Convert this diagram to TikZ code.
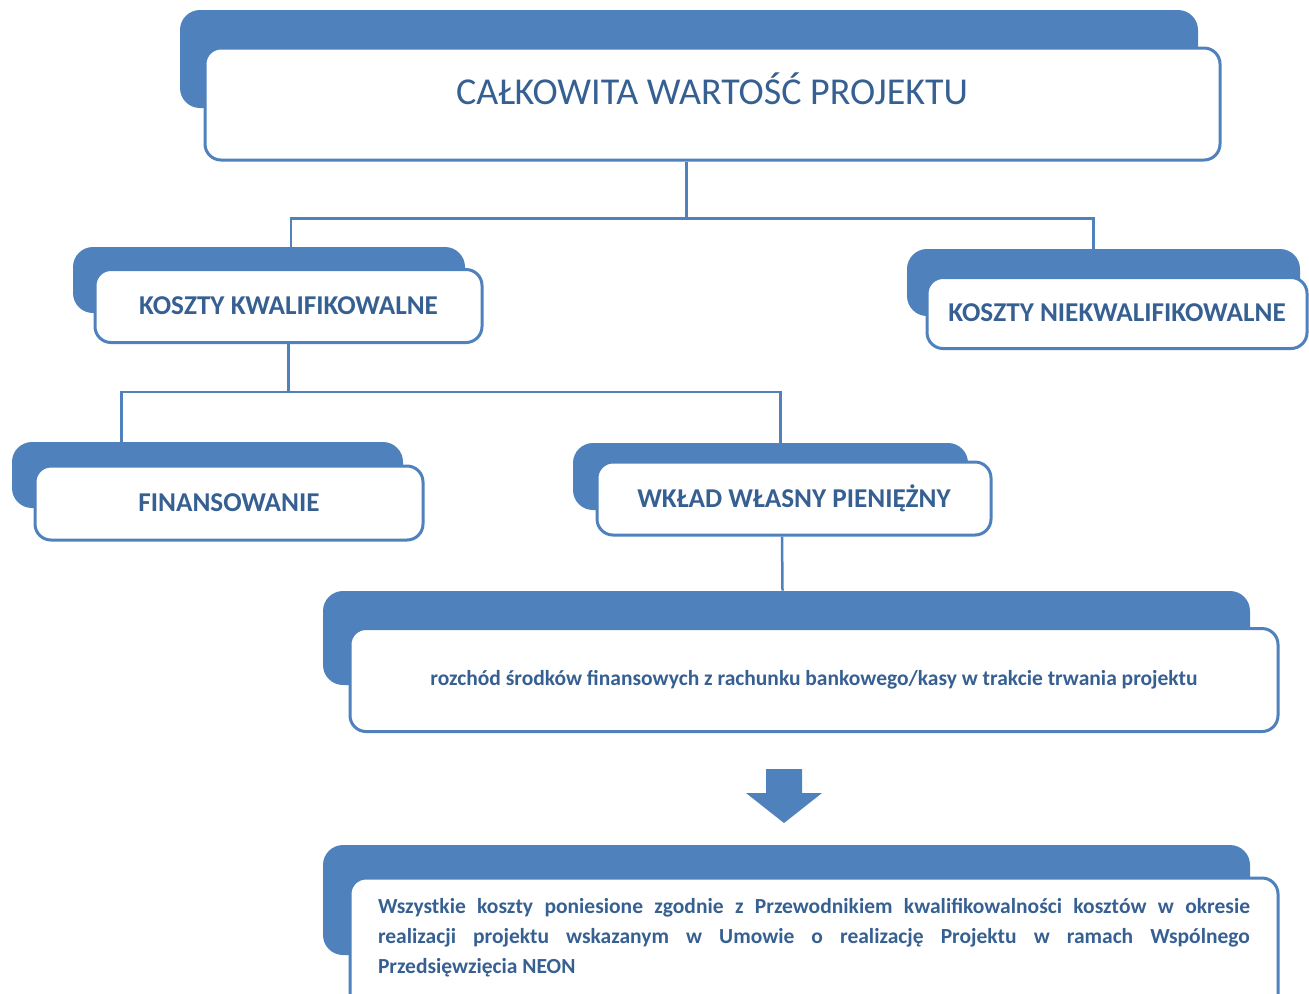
\documentclass[tikz,border=0pt]{standalone}
\usepackage{fontspec}
\setmainfont{Carlito}
\usepackage{tikz}
\usepackage{xcolor}
\definecolor{boxblue}{RGB}{79,129,189}
\definecolor{textblue}{RGB}{55,96,146}
\tikzset{
    tab-box/.style = {fill=boxblue, rectangle, rounded corners=10pt, inner sep=0pt},
    card-box/.style = {draw=boxblue, fill=white, line width=1.5pt, rectangle, rounded corners=8pt, inner sep=0pt, text=textblue, font=\bfseries\fontsize{13.6}{16}\selectfont},
    card-text/.style = {text=textblue, inner sep=0pt},
    link/.style = {draw=boxblue, line width=1.25pt},
}

\begin{document}
\begin{tikzpicture}[x=0.5pt, y=-0.5pt]
\useasboundingbox (0,0) rectangle (1309,993);
\clip (0,0) rectangle (1309,993);

\node [tab-box, minimum width=509pt, minimum height=49pt] (top-tab) at (689,59) {};
\node [card-box, minimum width=507.5pt, minimum height=56pt] (top-card) at (712.5,104) {};
\node [card-text, font=\fontsize{19}{23}\selectfont] (top-text) at (712,89) {CAŁKOWITA WARTOŚĆ PROJEKTU};

\node [tab-box, minimum width=196pt, minimum height=33pt] (kk-tab) at (269,280) {};
\node [card-box, minimum width=193.5pt, minimum height=36.5pt] (kk-card) at (288.5,306) {KOSZTY KWALIFIKOWALNE};

\node [tab-box, minimum width=196.5pt, minimum height=33.5pt] (nk-tab) at (1103.5,282.5) {};
\node [card-box, minimum width=190pt, minimum height=35.5pt] (nk-card) at (1117,313) {KOSZTY NIEKWALIFIKOWALNE};

\node [tab-box, minimum width=195.5pt, minimum height=33pt] (fin-tab) at (207.5,475) {};
\node [card-box, minimum width=194pt, minimum height=37pt] (fin-card) at (229,503) {FINANSOWANIE};

\node [tab-box, minimum width=197.5pt, minimum height=33.5pt] (wk-tab) at (770.5,476.5) {};
\node [card-box, minimum width=197pt, minimum height=36.5pt] (wk-card) at (794,498.5) {WKŁAD WŁASNY PIENIĘŻNY};

\node [tab-box, minimum width=463.5pt, minimum height=47pt] (rz-tab) at (786.5,638) {};
\node [card-box, minimum width=464pt, minimum height=51.5pt, font=\bfseries\fontsize{10.75}{15}\selectfont] (rz-card) at (814,680) {rozchód środków finansowych z rachunku bankowego/kasy w trakcie trwania projektu};

\node [tab-box, minimum width=463.5pt, minimum height=55pt] (all-tab) at (786.5,900) {};
\node [card-box, minimum width=464pt, minimum height=66pt] (all-card) at (814,944) {};
\node [card-text, text width=436pt, align=justify, font=\bfseries\fontsize{10.75}{15}\selectfont] (all-text) at (814,938) {Wszystkie koszty poniesione zgodnie z Przewodnikiem kwalifikowalności kosztów w okresie\linebreak realizacji projektu wskazanym w Umowie o realizację Projektu w ramach Wspólnego\linebreak Przedsięwzięcia NEON};

\draw [link] ([xshift=-13pt]top-card.south) -- ++(0,57) coordinate (split-top);
\draw [link] ([xshift=11pt]kk-tab.north) |- (split-top) -| ([xshift=-5pt]nk-tab.north);
\draw [link] (kk-card.south) -- ++(0,48) coordinate (split-kk);
\draw [link] ([xshift=-43pt]fin-tab.north) |- (split-kk) -| ([xshift=5pt]wk-tab.north);
\draw [link] ([xshift=-6pt]wk-card.south) -- ([xshift=-2pt]rz-tab.north);

\fill [boxblue] (766,769) -- (802,769) -- (802,793) -- (822,793) -- (784,823) -- (746,793) -- (766,793) -- cycle;
\end{tikzpicture}
\end{document}
